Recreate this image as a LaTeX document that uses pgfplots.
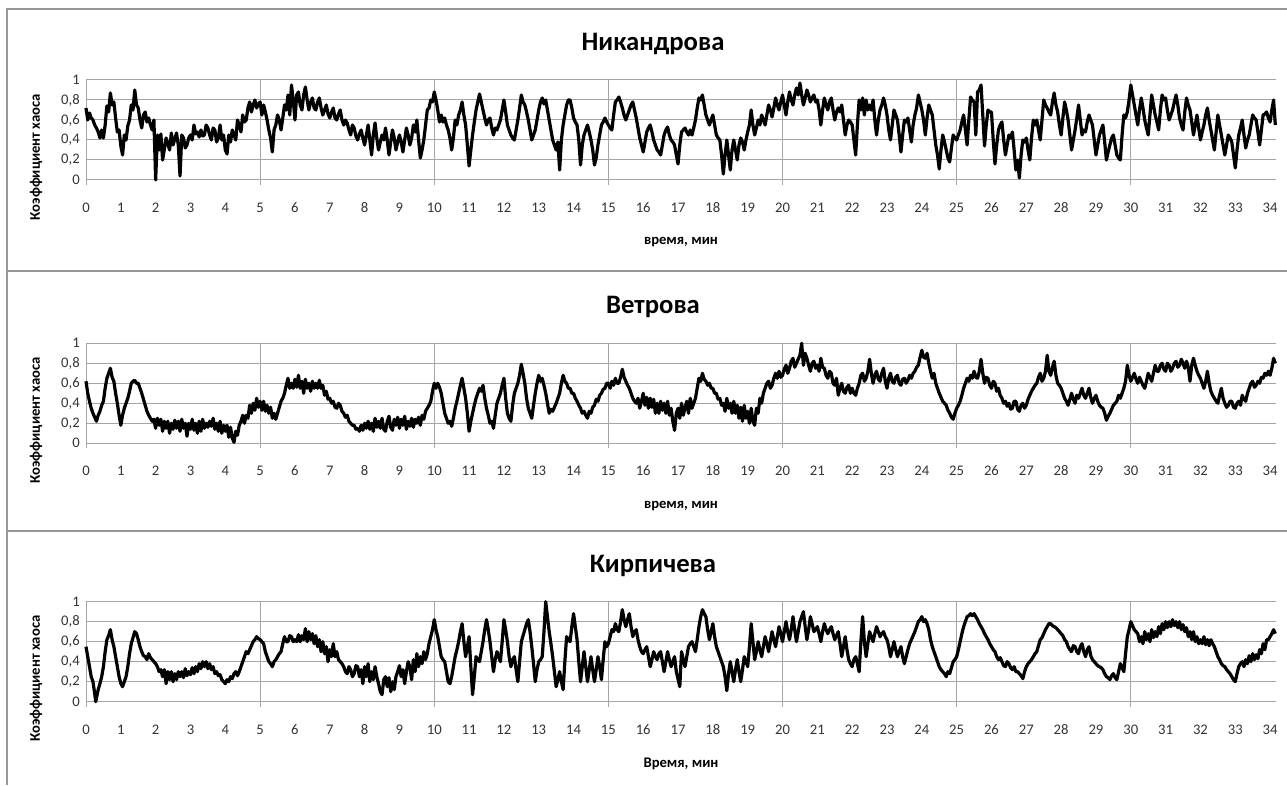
\documentclass[border=0pt]{standalone}
\usepackage{pgfplots}
\pgfplotsset{compat=1.18}
\usepackage{fontspec}
\setmainfont{Carlito}

\definecolor{gridgray}{RGB}{165,165,165}
\definecolor{framegray}{RGB}{150,150,150}

\pgfplotsset{
  chaos/.style={
    scale only axis, width=892.5pt, height=75pt,
    anchor=south west,
    xmin=0, xmax=34.17, ymin=0, ymax=1,
    axis line style={draw=none},
    xtick={0,...,34}, major tick length=0pt,
    ytick={0,0.2,0.4,0.6,0.8,1},
    yticklabels={0,{0,2},{0,4},{0,6},{0,8},1},
    ymajorgrids, grid style={gridgray, line width=0.75pt},
    extra x ticks={0,5,10,15,20,25,30}, extra x tick labels={},
    extra x tick style={xmajorgrids, major tick length=3.75pt,
      tick align=outside, tick pos=bottom,
      tick style={gridgray, line width=0.75pt}},
    /pgf/number format/assume math mode=true,
    xticklabel style={font=\fontsize{11}{13}\selectfont, anchor=base,
      inner sep=0pt, yshift=-24.5pt, text=black!80},
    yticklabel style={font=\fontsize{11}{13}\selectfont, anchor=east,
      inner sep=0pt, xshift=-4.5pt, text=black!80},
    clip=false,
  },
  series/.style={black, line width=2.4pt, line join=round, mark=none},
}

\begin{document}
\begin{tikzpicture}
\useasboundingbox (0,0) rectangle (965.25pt,588.75pt);

% chart frames
\draw[framegray, line width=1.1pt] (5.25pt,0pt) -- (5.25pt,582pt) -- (965.25pt,582pt);
\draw[framegray, line width=1.1pt] (5.25pt,385.5pt) -- (965.25pt,385.5pt);
\draw[framegray, line width=1.1pt] (5.25pt,190.5pt) -- (965.25pt,190.5pt);

% ---------------- Никандрова ----------------
\begin{axis}[chaos, at={(64.5pt,453.75pt)}]
\addplot[series] coordinates {
(0,0.72)(0.05,0.6)(0.1,0.67)(0.15,0.62)(0.2,0.6)(0.25,0.55)(0.3,0.52)(0.35,0.48)(0.4,0.42)(0.45,0.5)(0.5,0.42)(0.55,0.55)(0.6,0.74)(0.65,0.68)(0.7,0.87)(0.75,0.75)(0.8,0.78)(0.85,0.62)(0.9,0.48)(0.95,0.5)
(1.0,0.34)(1.05,0.25)(1.1,0.45)(1.15,0.4)(1.2,0.54)(1.25,0.6)(1.3,0.75)(1.35,0.7)(1.4,0.9)(1.45,0.75)(1.5,0.72)(1.55,0.6)(1.6,0.52)(1.65,0.65)(1.7,0.68)(1.75,0.58)(1.8,0.62)(1.85,0.55)(1.9,0.5)(1.95,0.6)
(2.0,0.0)(2.05,0.45)(2.1,0.3)(2.15,0.46)(2.2,0.2)(2.3,0.42)(2.4,0.3)(2.45,0.47)(2.5,0.35)(2.6,0.47)(2.65,0.35)(2.7,0.04)(2.75,0.45)(2.8,0.42)(2.85,0.32)(2.9,0.35)(2.95,0.42)
(3.0,0.45)(3.05,0.4)(3.1,0.55)(3.15,0.46)(3.2,0.48)(3.25,0.43)(3.3,0.5)(3.35,0.44)(3.4,0.45)(3.45,0.55)(3.5,0.52)(3.55,0.45)(3.6,0.4)(3.65,0.52)(3.7,0.5)(3.75,0.38)(3.8,0.42)(3.85,0.55)(3.9,0.4)(3.95,0.45)
(4.0,0.3)(4.05,0.26)(4.1,0.45)(4.15,0.38)(4.2,0.5)(4.25,0.45)(4.3,0.4)(4.35,0.6)(4.4,0.55)(4.45,0.48)(4.5,0.65)(4.55,0.58)(4.6,0.6)(4.65,0.72)(4.7,0.78)(4.75,0.68)(4.8,0.75)(4.85,0.8)(4.9,0.72)(4.95,0.76)
(5.0,0.78)(5.05,0.65)(5.1,0.75)(5.15,0.68)(5.2,0.6)(5.25,0.5)(5.3,0.42)(5.35,0.28)(5.4,0.5)(5.45,0.55)(5.5,0.65)(5.55,0.6)(5.6,0.5)(5.65,0.62)(5.7,0.75)(5.75,0.7)(5.8,0.85)(5.85,0.65)(5.9,0.95)(5.95,0.8)
(6.0,0.6)(6.05,0.85)(6.1,0.88)(6.15,0.75)(6.2,0.7)(6.25,0.85)(6.3,0.93)(6.35,0.8)(6.4,0.7)(6.45,0.78)(6.5,0.82)(6.55,0.72)(6.6,0.7)(6.65,0.78)(6.7,0.82)(6.75,0.72)(6.8,0.65)(6.85,0.7)(6.9,0.75)(6.95,0.66)
(7.0,0.62)(7.05,0.68)(7.1,0.72)(7.15,0.62)(7.2,0.6)(7.25,0.66)(7.3,0.7)(7.35,0.6)(7.4,0.55)(7.45,0.6)(7.5,0.57)(7.55,0.5)(7.6,0.45)(7.65,0.55)(7.7,0.52)(7.75,0.44)(7.8,0.4)(7.85,0.46)(7.9,0.5)(7.95,0.42)
(8.0,0.35)(8.05,0.45)(8.1,0.55)(8.15,0.4)(8.2,0.25)(8.25,0.45)(8.3,0.57)(8.35,0.42)(8.4,0.3)(8.45,0.38)(8.5,0.45)(8.55,0.4)(8.6,0.52)(8.65,0.4)(8.7,0.25)(8.75,0.38)(8.8,0.5)(8.85,0.42)(8.9,0.3)(8.95,0.38)
(9.0,0.45)(9.05,0.38)(9.1,0.28)(9.15,0.4)(9.2,0.52)(9.25,0.45)(9.3,0.35)(9.35,0.42)(9.4,0.55)(9.45,0.48)(9.5,0.6)(9.55,0.4)(9.6,0.22)(9.65,0.3)(9.7,0.4)(9.75,0.55)(9.8,0.7)(9.85,0.72)(9.9,0.8)(9.95,0.78)
(10.0,0.88)(10.05,0.8)(10.1,0.7)(10.15,0.58)(10.2,0.65)(10.25,0.58)(10.3,0.62)(10.35,0.55)(10.4,0.5)(10.45,0.42)(10.5,0.3)(10.55,0.42)(10.6,0.6)(10.65,0.55)(10.7,0.65)(10.75,0.7)(10.8,0.78)(10.85,0.65)(10.9,0.55)(10.95,0.35)
(11.0,0.14)(11.05,0.3)(11.1,0.45)(11.15,0.58)(11.2,0.7)(11.25,0.78)(11.3,0.86)(11.35,0.78)(11.4,0.7)(11.45,0.62)(11.5,0.55)(11.55,0.6)(11.6,0.62)(11.65,0.52)(11.7,0.45)(11.75,0.52)(11.8,0.5)(11.85,0.55)(11.9,0.6)(11.95,0.7)
(12.0,0.8)(12.05,0.68)(12.1,0.55)(12.15,0.5)(12.2,0.45)(12.25,0.42)(12.3,0.4)(12.35,0.5)(12.4,0.6)(12.45,0.72)(12.5,0.85)(12.55,0.78)(12.6,0.75)(12.65,0.68)(12.7,0.6)(12.75,0.5)(12.8,0.4)(12.85,0.45)(12.9,0.5)(12.95,0.6)
(13.0,0.7)(13.05,0.78)(13.1,0.82)(13.15,0.76)(13.2,0.8)(13.25,0.7)(13.3,0.6)(13.35,0.5)(13.4,0.4)(13.45,0.35)(13.5,0.3)(13.55,0.38)(13.6,0.1)(13.65,0.4)(13.7,0.55)(13.75,0.65)(13.8,0.75)(13.85,0.8)(13.9,0.8)(13.95,0.72)
(14.0,0.62)(14.05,0.58)(14.1,0.55)(14.15,0.4)(14.2,0.15)(14.25,0.35)(14.3,0.45)(14.35,0.5)(14.4,0.55)(14.45,0.48)(14.5,0.4)(14.55,0.3)(14.6,0.15)(14.65,0.22)(14.7,0.35)(14.75,0.45)(14.8,0.55)(14.85,0.58)(14.9,0.62)(14.95,0.58)
(15.0,0.55)(15.05,0.52)(15.1,0.5)(15.15,0.65)(15.2,0.78)(15.25,0.8)(15.3,0.83)(15.35,0.78)(15.4,0.72)(15.45,0.65)(15.5,0.6)(15.55,0.65)(15.6,0.7)(15.65,0.75)(15.7,0.78)(15.75,0.7)(15.8,0.62)(15.85,0.52)(15.9,0.42)(15.95,0.35)
(16.0,0.28)(16.05,0.38)(16.1,0.48)(16.15,0.52)(16.2,0.55)(16.25,0.48)(16.3,0.4)(16.35,0.35)(16.4,0.3)(16.45,0.28)(16.5,0.25)(16.55,0.35)(16.6,0.45)(16.65,0.5)(16.7,0.53)(16.75,0.45)(16.8,0.4)(16.85,0.38)(16.9,0.35)(16.95,0.25)
(17.0,0.16)(17.05,0.35)(17.1,0.48)(17.15,0.5)(17.2,0.52)(17.25,0.48)(17.3,0.45)(17.35,0.5)(17.4,0.45)(17.45,0.52)(17.5,0.6)(17.55,0.72)(17.6,0.82)(17.65,0.8)(17.7,0.85)(17.75,0.75)(17.8,0.65)(17.85,0.6)(17.9,0.55)(17.95,0.6)
(18.0,0.65)(18.05,0.55)(18.1,0.45)(18.15,0.42)(18.2,0.4)(18.25,0.25)(18.3,0.06)(18.35,0.25)(18.4,0.4)(18.45,0.25)(18.5,0.1)(18.55,0.3)(18.6,0.4)(18.65,0.3)(18.7,0.2)(18.75,0.35)(18.8,0.42)(18.85,0.38)(18.9,0.3)(18.95,0.4)
(19.0,0.48)(19.05,0.55)(19.1,0.7)(19.15,0.55)(19.2,0.45)(19.25,0.52)(19.3,0.6)(19.35,0.55)(19.4,0.65)(19.45,0.6)(19.5,0.55)(19.55,0.65)(19.6,0.75)(19.65,0.7)(19.7,0.63)(19.75,0.72)(19.8,0.82)(19.85,0.75)(19.9,0.7)(19.95,0.78)
(20.0,0.85)(20.05,0.75)(20.1,0.65)(20.15,0.78)(20.2,0.88)(20.25,0.8)(20.3,0.75)(20.35,0.85)(20.4,0.92)(20.45,0.85)(20.5,0.97)(20.55,0.85)(20.6,0.75)(20.65,0.82)(20.7,0.9)(20.75,0.85)(20.8,0.78)(20.85,0.82)(20.9,0.85)(20.95,0.78)
(21.0,0.8)(21.05,0.7)(21.1,0.55)(21.15,0.7)(21.2,0.82)(21.25,0.75)(21.3,0.7)(21.35,0.78)(21.4,0.82)(21.45,0.7)(21.5,0.6)(21.55,0.68)(21.6,0.72)(21.65,0.68)(21.7,0.75)(21.75,0.6)(21.8,0.45)(21.85,0.55)(21.9,0.6)(21.95,0.58)
(22.0,0.55)(22.05,0.4)(22.1,0.25)(22.15,0.55)(22.2,0.8)(22.25,0.7)(22.3,0.82)(22.35,0.65)(22.4,0.8)(22.45,0.7)(22.5,0.75)(22.55,0.7)(22.6,0.8)(22.65,0.6)(22.7,0.45)(22.75,0.6)(22.8,0.7)(22.85,0.75)(22.9,0.82)(22.95,0.75)
(23.0,0.65)(23.05,0.5)(23.1,0.4)(23.15,0.55)(23.2,0.7)(23.25,0.65)(23.3,0.6)(23.35,0.45)(23.4,0.28)(23.45,0.45)(23.5,0.6)(23.55,0.58)(23.6,0.62)(23.65,0.5)(23.7,0.38)(23.75,0.55)(23.8,0.65)(23.85,0.72)(23.9,0.85)(23.95,0.78)
(24.0,0.7)(24.05,0.6)(24.1,0.45)(24.15,0.62)(24.2,0.75)(24.25,0.7)(24.3,0.65)(24.35,0.5)(24.4,0.35)(24.45,0.25)(24.5,0.11)(24.55,0.3)(24.6,0.45)(24.65,0.38)(24.7,0.3)(24.75,0.22)(24.8,0.18)(24.85,0.32)(24.9,0.45)(24.95,0.42)
(25.0,0.4)(25.05,0.45)(25.1,0.5)(25.15,0.58)(25.2,0.65)(25.25,0.5)(25.3,0.35)(25.35,0.6)(25.4,0.83)(25.45,0.8)(25.5,0.78)(25.55,0.45)(25.6,0.88)(25.65,0.9)(25.7,0.95)(25.75,0.65)(25.8,0.34)(25.85,0.55)(25.9,0.7)(25.95,0.68)
(26.0,0.68)(26.05,0.4)(26.1,0.16)(26.15,0.35)(26.2,0.5)(26.25,0.55)(26.3,0.58)(26.35,0.4)(26.4,0.25)(26.45,0.35)(26.5,0.45)(26.55,0.42)(26.6,0.48)(26.65,0.3)(26.7,0.1)(26.75,0.2)(26.8,0.02)(26.85,0.25)(26.9,0.4)(26.95,0.38)
(27.0,0.42)(27.05,0.3)(27.1,0.2)(27.15,0.42)(27.2,0.6)(27.25,0.55)(27.3,0.6)(27.35,0.5)(27.4,0.4)(27.45,0.6)(27.5,0.8)(27.55,0.75)(27.6,0.72)(27.65,0.68)(27.7,0.65)(27.75,0.78)(27.8,0.87)(27.85,0.75)(27.9,0.68)(27.95,0.55)
(28.0,0.45)(28.05,0.62)(28.1,0.78)(28.15,0.7)(28.2,0.6)(28.25,0.45)(28.3,0.3)(28.35,0.4)(28.4,0.5)(28.45,0.62)(28.5,0.75)(28.55,0.6)(28.6,0.45)(28.65,0.5)(28.7,0.48)(28.75,0.58)(28.8,0.65)(28.85,0.6)(28.9,0.55)(28.95,0.4)
(29.0,0.25)(29.05,0.35)(29.1,0.45)(29.15,0.5)(29.2,0.55)(29.25,0.38)(29.3,0.2)(29.35,0.28)(29.4,0.35)(29.45,0.42)(29.5,0.45)(29.55,0.35)(29.6,0.25)(29.65,0.22)(29.7,0.2)(29.75,0.45)(29.8,0.65)(29.85,0.62)(29.9,0.68)(29.95,0.8)
(30.0,0.95)(30.05,0.85)(30.1,0.75)(30.15,0.65)(30.2,0.55)(30.25,0.7)(30.3,0.82)(30.35,0.72)(30.4,0.6)(30.45,0.52)(30.5,0.45)(30.55,0.65)(30.6,0.85)(30.65,0.75)(30.7,0.65)(30.75,0.58)(30.8,0.5)(30.85,0.7)(30.9,0.85)(30.95,0.8)
(31.0,0.82)(31.05,0.7)(31.1,0.6)(31.15,0.65)(31.2,0.7)(31.25,0.78)(31.3,0.85)(31.35,0.75)(31.4,0.62)(31.45,0.55)(31.5,0.5)(31.55,0.68)(31.6,0.82)(31.65,0.75)(31.7,0.7)(31.75,0.58)(31.8,0.45)(31.85,0.55)(31.9,0.65)(31.95,0.52)
(32.0,0.4)(32.05,0.48)(32.1,0.55)(32.15,0.65)(32.2,0.72)(32.25,0.6)(32.3,0.5)(32.35,0.4)(32.4,0.3)(32.45,0.48)(32.5,0.65)(32.55,0.55)(32.6,0.45)(32.65,0.35)(32.7,0.25)(32.75,0.35)(32.8,0.45)(32.85,0.42)(32.9,0.38)(32.95,0.25)
(33.0,0.12)(33.05,0.3)(33.1,0.45)(33.15,0.52)(33.2,0.6)(33.25,0.45)(33.3,0.32)(33.35,0.4)(33.4,0.45)(33.45,0.55)(33.5,0.65)(33.55,0.62)(33.6,0.6)(33.65,0.48)(33.7,0.35)(33.75,0.5)(33.8,0.65)(33.85,0.66)(33.9,0.68)(33.95,0.62)
(34.0,0.58)(34.05,0.7)(34.1,0.8)(34.15,0.55)
};
\end{axis}

% ---------------- Ветрова ----------------
\begin{axis}[chaos, at={(64.5pt,256.3pt)}]
\addplot[series] coordinates {
(0,0.62)(0.05,0.5)(0.1,0.42)(0.15,0.35)(0.2,0.3)(0.25,0.26)(0.3,0.22)(0.35,0.28)(0.4,0.32)(0.45,0.38)(0.5,0.42)(0.55,0.55)(0.6,0.65)(0.65,0.7)(0.7,0.75)(0.75,0.66)(0.8,0.62)(0.85,0.5)(0.9,0.4)(0.95,0.28)
(1.0,0.18)(1.05,0.28)(1.1,0.35)(1.15,0.4)(1.2,0.45)(1.25,0.52)(1.3,0.6)(1.35,0.62)(1.4,0.63)(1.45,0.6)(1.5,0.6)(1.55,0.55)(1.6,0.5)(1.65,0.44)(1.7,0.38)(1.75,0.32)(1.8,0.28)(1.85,0.25)(1.9,0.22)(1.95,0.24)
(2.0,0.15)(2.05,0.25)(2.1,0.18)(2.15,0.24)(2.2,0.12)(2.25,0.22)(2.3,0.15)(2.35,0.22)(2.4,0.1)(2.45,0.2)(2.5,0.14)(2.55,0.23)(2.6,0.15)(2.65,0.22)(2.7,0.12)(2.75,0.24)(2.8,0.15)(2.85,0.2)(2.9,0.07)(2.95,0.2)
(3.0,0.14)(3.05,0.24)(3.1,0.13)(3.15,0.2)(3.2,0.1)(3.25,0.22)(3.3,0.12)(3.35,0.24)(3.4,0.15)(3.45,0.2)(3.5,0.16)(3.55,0.22)(3.6,0.17)(3.65,0.25)(3.7,0.14)(3.75,0.2)(3.8,0.12)(3.85,0.22)(3.9,0.1)(3.95,0.18)
(4.0,0.12)(4.05,0.18)(4.1,0.06)(4.15,0.16)(4.2,0.05)(4.25,0.01)(4.3,0.12)(4.35,0.08)(4.4,0.18)(4.45,0.22)
(4.5,0.28)(4.55,0.2)(4.6,0.28)(4.65,0.25)(4.7,0.38)(4.75,0.3)(4.8,0.4)(4.85,0.33)(4.9,0.45)(4.95,0.36)
(5.0,0.42)(5.05,0.33)(5.1,0.42)(5.15,0.32)(5.2,0.38)(5.25,0.3)(5.3,0.36)(5.35,0.25)(5.4,0.3)(5.45,0.24)(5.5,0.3)(5.55,0.36)(5.6,0.42)(5.65,0.45)(5.7,0.5)(5.75,0.58)
(5.8,0.65)(5.85,0.55)(5.9,0.6)(5.95,0.55)(6.0,0.64)(6.05,0.56)(6.1,0.68)(6.15,0.55)(6.2,0.62)(6.25,0.5)(6.3,0.64)(6.35,0.55)(6.4,0.6)(6.45,0.52)(6.5,0.62)(6.55,0.55)(6.6,0.6)(6.65,0.55)(6.7,0.63)(6.75,0.55)(6.8,0.58)(6.85,0.48)(6.9,0.52)(6.95,0.44)
(7.0,0.45)(7.05,0.4)(7.1,0.42)(7.15,0.36)(7.2,0.35)(7.25,0.4)(7.3,0.38)(7.35,0.32)(7.4,0.3)(7.45,0.26)(7.5,0.28)(7.55,0.22)(7.6,0.2)(7.65,0.18)(7.7,0.18)(7.75,0.14)
(7.8,0.15)(7.85,0.12)(7.9,0.18)(7.95,0.13)(8.0,0.2)(8.05,0.15)(8.1,0.22)(8.15,0.14)(8.2,0.2)(8.25,0.12)(8.3,0.25)(8.35,0.16)(8.4,0.22)(8.45,0.15)(8.5,0.25)(8.55,0.14)(8.6,0.12)(8.65,0.22)(8.7,0.27)(8.75,0.16)
(8.8,0.13)(8.85,0.24)(8.9,0.18)(8.95,0.26)(9.0,0.15)(9.05,0.24)(9.1,0.18)(9.15,0.27)(9.2,0.14)(9.25,0.22)(9.3,0.17)(9.35,0.25)(9.4,0.16)(9.45,0.24)(9.5,0.2)(9.55,0.26)(9.6,0.18)(9.65,0.28)(9.7,0.24)(9.75,0.32)
(9.8,0.35)(9.85,0.38)(9.9,0.42)(9.95,0.52)
(10.0,0.6)(10.05,0.55)(10.1,0.6)(10.15,0.56)(10.2,0.5)(10.25,0.4)(10.3,0.3)(10.35,0.25)(10.4,0.2)(10.45,0.22)(10.5,0.17)(10.55,0.25)(10.6,0.35)(10.65,0.42)(10.7,0.5)(10.75,0.58)(10.8,0.65)(10.85,0.55)(10.9,0.45)(10.95,0.3)
(11.0,0.12)(11.05,0.22)(11.1,0.3)(11.15,0.38)(11.2,0.45)(11.25,0.5)(11.3,0.55)(11.35,0.52)(11.4,0.58)(11.45,0.45)(11.5,0.35)(11.55,0.28)(11.6,0.2)(11.65,0.22)(11.7,0.15)(11.75,0.28)(11.8,0.4)(11.85,0.45)(11.9,0.5)(11.95,0.58)
(12.0,0.65)(12.05,0.45)(12.1,0.3)(12.15,0.25)(12.2,0.22)(12.25,0.38)(12.3,0.5)(12.35,0.55)(12.4,0.6)(12.45,0.68)(12.5,0.79)(12.55,0.7)(12.6,0.6)(12.65,0.45)(12.7,0.35)(12.75,0.3)(12.8,0.25)(12.85,0.38)(12.9,0.5)(12.95,0.6)
(13.0,0.68)(13.05,0.62)(13.1,0.65)(13.15,0.58)(13.2,0.5)(13.25,0.4)(13.3,0.3)(13.35,0.34)(13.4,0.32)(13.45,0.36)(13.5,0.4)(13.55,0.45)(13.6,0.5)(13.65,0.6)(13.7,0.68)(13.75,0.62)(13.8,0.6)(13.85,0.55)(13.9,0.55)(13.95,0.5)
(14.0,0.5)(14.05,0.45)(14.1,0.42)(14.15,0.38)(14.2,0.35)(14.25,0.3)(14.3,0.32)(14.35,0.28)(14.4,0.25)(14.45,0.32)(14.5,0.3)(14.55,0.36)(14.6,0.38)(14.65,0.44)(14.7,0.42)(14.75,0.48)(14.8,0.5)(14.85,0.54)(14.9,0.55)(14.95,0.6)
(15.0,0.6)(15.05,0.55)(15.1,0.62)(15.15,0.58)(15.2,0.65)(15.25,0.6)(15.3,0.6)(15.35,0.66)(15.4,0.74)(15.45,0.66)(15.5,0.62)(15.55,0.58)(15.6,0.55)(15.65,0.5)(15.7,0.45)(15.75,0.42)(15.8,0.4)(15.85,0.45)(15.9,0.35)(15.95,0.42)
(16.0,0.5)(16.05,0.38)(16.1,0.46)(16.15,0.35)(16.2,0.45)(16.25,0.36)(16.3,0.44)(16.35,0.3)(16.4,0.4)(16.45,0.3)(16.5,0.42)(16.55,0.33)(16.6,0.4)(16.65,0.3)(16.7,0.42)(16.75,0.28)(16.8,0.35)(16.85,0.22)(16.9,0.13)(16.95,0.3)
(17.0,0.35)(17.05,0.25)(17.1,0.4)(17.15,0.28)(17.2,0.35)(17.25,0.42)(17.3,0.3)(17.35,0.45)(17.4,0.35)(17.45,0.4)(17.5,0.45)(17.55,0.55)(17.6,0.65)(17.65,0.62)(17.7,0.7)(17.75,0.64)(17.8,0.62)(17.85,0.58)(17.9,0.6)(17.95,0.55)
(18.0,0.55)(18.05,0.5)(18.1,0.5)(18.15,0.44)(18.2,0.45)(18.25,0.38)(18.3,0.4)(18.35,0.32)(18.4,0.45)(18.45,0.35)(18.5,0.4)(18.55,0.3)(18.6,0.42)(18.65,0.3)(18.7,0.38)(18.75,0.25)(18.8,0.36)(18.85,0.22)(18.9,0.38)(18.95,0.25)
(19.0,0.32)(19.05,0.2)(19.1,0.35)(19.15,0.22)(19.2,0.18)(19.25,0.35)(19.3,0.3)(19.35,0.45)(19.4,0.4)(19.45,0.5)(19.5,0.55)(19.55,0.6)(19.6,0.62)(19.65,0.55)(19.7,0.58)(19.75,0.65)(19.8,0.7)(19.85,0.65)(19.9,0.72)(19.95,0.66)
(20.0,0.68)(20.05,0.74)(20.1,0.78)(20.15,0.7)(20.2,0.75)(20.25,0.82)(20.3,0.85)(20.35,0.76)(20.4,0.8)(20.45,0.84)(20.5,0.88)(20.55,1.0)(20.6,0.78)(20.65,0.9)(20.7,0.85)(20.75,0.78)(20.8,0.72)(20.85,0.8)(20.9,0.82)(20.95,0.75)
(21.0,0.78)(21.05,0.72)(21.1,0.85)(21.15,0.76)(21.2,0.75)(21.25,0.68)(21.3,0.65)(21.35,0.72)(21.4,0.7)(21.45,0.6)(21.5,0.58)(21.55,0.65)(21.6,0.48)(21.65,0.55)(21.7,0.6)(21.75,0.52)(21.8,0.5)(21.85,0.56)(21.9,0.58)(21.95,0.5)
(22.0,0.55)(22.05,0.5)(22.1,0.48)(22.15,0.55)(22.2,0.6)(22.25,0.68)(22.3,0.7)(22.35,0.62)(22.4,0.65)(22.45,0.72)(22.5,0.84)(22.55,0.7)(22.6,0.6)(22.65,0.68)(22.7,0.72)(22.75,0.64)(22.8,0.62)(22.85,0.7)(22.9,0.75)(22.95,0.62)
(23.0,0.55)(23.05,0.65)(23.1,0.7)(23.15,0.62)(23.2,0.6)(23.25,0.66)(23.3,0.68)(23.35,0.6)(23.4,0.58)(23.45,0.64)(23.5,0.65)(23.55,0.6)(23.6,0.63)(23.65,0.68)(23.7,0.65)(23.75,0.7)(23.8,0.72)(23.85,0.76)(23.9,0.78)(23.95,0.86)
(24.0,0.93)(24.05,0.86)(24.1,0.85)(24.15,0.9)(24.2,0.8)(24.25,0.72)(24.3,0.65)(24.35,0.7)(24.4,0.6)(24.45,0.55)(24.5,0.5)(24.55,0.46)(24.6,0.42)(24.65,0.4)(24.7,0.38)(24.75,0.33)(24.8,0.3)(24.85,0.26)(24.9,0.24)(24.95,0.3)
(25.0,0.35)(25.05,0.38)(25.1,0.42)(25.15,0.48)(25.2,0.55)(25.25,0.6)(25.3,0.65)(25.35,0.62)(25.4,0.68)(25.45,0.65)(25.5,0.72)(25.55,0.66)(25.6,0.65)(25.65,0.72)(25.7,0.84)(25.75,0.7)(25.8,0.6)(25.85,0.66)(25.9,0.65)(25.95,0.58)
(26.0,0.55)(26.05,0.62)(26.1,0.6)(26.15,0.52)(26.2,0.55)(26.25,0.48)(26.3,0.45)(26.35,0.4)(26.4,0.42)(26.45,0.37)(26.5,0.4)(26.55,0.34)(26.6,0.35)(26.65,0.42)(26.7,0.42)(26.75,0.34)(26.8,0.32)(26.85,0.38)(26.9,0.4)(26.95,0.35)
(27.0,0.38)(27.05,0.44)(27.1,0.48)(27.15,0.52)(27.2,0.55)(27.25,0.58)(27.3,0.6)(27.35,0.66)(27.4,0.7)(27.45,0.62)(27.5,0.65)(27.55,0.72)(27.6,0.88)(27.65,0.72)(27.7,0.68)(27.75,0.76)(27.8,0.82)(27.85,0.68)(27.9,0.6)(27.95,0.58)
(28.0,0.55)(28.05,0.5)(28.1,0.45)(28.15,0.42)(28.2,0.38)(28.25,0.44)(28.3,0.5)(28.35,0.44)(28.4,0.4)(28.45,0.48)(28.5,0.45)(28.55,0.5)(28.6,0.55)(28.65,0.48)(28.7,0.45)(28.75,0.5)(28.8,0.55)(28.85,0.46)(28.9,0.4)(28.95,0.45)
(29.0,0.48)(29.05,0.42)(29.1,0.38)(29.15,0.36)(29.2,0.35)(29.25,0.3)(29.3,0.23)(29.35,0.27)(29.4,0.3)(29.45,0.34)(29.5,0.38)(29.55,0.4)(29.6,0.42)(29.65,0.48)(29.7,0.45)(29.75,0.5)(29.8,0.55)(29.85,0.62)(29.9,0.78)(29.95,0.68)
(30.0,0.62)(30.05,0.66)(30.1,0.7)(30.15,0.64)(30.2,0.6)(30.25,0.66)(30.3,0.62)(30.35,0.58)(30.4,0.55)(30.45,0.62)(30.5,0.7)(30.55,0.66)(30.6,0.62)(30.65,0.7)(30.7,0.78)(30.75,0.72)(30.8,0.72)(30.85,0.78)(30.9,0.8)(30.95,0.74)
(31.0,0.72)(31.05,0.8)(31.1,0.78)(31.15,0.72)(31.2,0.75)(31.25,0.8)(31.3,0.82)(31.35,0.76)(31.4,0.78)(31.45,0.84)(31.5,0.8)(31.55,0.75)(31.6,0.82)(31.65,0.76)(31.7,0.62)(31.75,0.78)(31.8,0.85)(31.85,0.78)(31.9,0.72)(31.95,0.68)
(32.0,0.65)(32.05,0.6)(32.1,0.55)(32.15,0.62)(32.2,0.72)(32.25,0.6)(32.3,0.52)(32.35,0.48)(32.4,0.45)(32.45,0.42)(32.5,0.4)(32.55,0.48)(32.6,0.55)(32.65,0.45)(32.7,0.4)(32.75,0.36)(32.8,0.38)(32.85,0.42)(32.9,0.42)(32.95,0.36)
(33.0,0.35)(33.05,0.4)(33.1,0.42)(33.15,0.38)(33.2,0.48)(33.25,0.44)(33.3,0.42)(33.35,0.5)(33.4,0.55)(33.45,0.6)(33.5,0.62)(33.55,0.56)(33.6,0.58)(33.65,0.62)(33.7,0.6)(33.75,0.66)(33.8,0.65)(33.85,0.7)(33.9,0.68)(33.95,0.72)
(34.0,0.68)(34.05,0.75)(34.1,0.85)(34.15,0.8)
};
\end{axis}

% ---------------- Кирпичева ----------------
\begin{axis}[chaos, at={(64.5pt,62.5pt)}]
\addplot[series] coordinates {
(0,0.55)(0.05,0.45)(0.1,0.35)(0.15,0.25)(0.2,0.2)(0.25,0.08)(0.28,0.0)(0.35,0.12)(0.4,0.18)(0.45,0.25)(0.5,0.35)(0.55,0.5)(0.6,0.62)(0.65,0.66)(0.7,0.72)(0.75,0.62)(0.8,0.55)(0.85,0.45)(0.9,0.35)(0.95,0.25)
(1.0,0.18)(1.05,0.15)(1.1,0.2)(1.15,0.25)(1.2,0.35)(1.25,0.48)(1.3,0.58)(1.35,0.64)(1.4,0.7)(1.45,0.68)(1.5,0.62)(1.55,0.55)(1.6,0.5)(1.65,0.46)(1.7,0.45)(1.75,0.42)(1.8,0.48)(1.85,0.44)(1.9,0.42)(1.95,0.4)
(2.0,0.38)(2.05,0.35)(2.1,0.3)(2.15,0.32)(2.2,0.25)(2.25,0.32)(2.3,0.18)(2.35,0.3)(2.4,0.22)(2.45,0.3)(2.5,0.2)(2.55,0.28)(2.6,0.22)(2.65,0.3)(2.7,0.25)(2.75,0.3)(2.8,0.24)(2.85,0.33)(2.9,0.26)(2.95,0.3)
(3.0,0.27)(3.05,0.34)(3.1,0.28)(3.15,0.35)(3.2,0.3)(3.25,0.38)(3.3,0.33)(3.35,0.4)(3.4,0.35)(3.45,0.4)(3.5,0.33)(3.55,0.38)(3.6,0.32)(3.65,0.35)(3.7,0.28)(3.75,0.3)(3.8,0.26)(3.85,0.27)(3.9,0.22)(3.95,0.2)
(4.0,0.18)(4.05,0.22)(4.1,0.2)(4.15,0.25)(4.2,0.23)(4.25,0.28)(4.3,0.3)(4.35,0.26)(4.4,0.3)(4.45,0.35)(4.5,0.4)(4.55,0.45)(4.6,0.5)(4.65,0.48)(4.7,0.52)(4.75,0.56)(4.8,0.6)(4.85,0.62)(4.9,0.65)(4.95,0.63)
(5.0,0.62)(5.05,0.6)(5.1,0.58)(5.15,0.5)(5.2,0.45)(5.25,0.4)(5.3,0.38)(5.35,0.35)(5.4,0.4)(5.45,0.42)(5.5,0.45)(5.55,0.48)(5.6,0.5)(5.65,0.58)(5.7,0.65)(5.75,0.6)(5.8,0.6)(5.85,0.66)(5.9,0.65)(5.95,0.6)
(6.0,0.62)(6.05,0.6)(6.1,0.67)(6.15,0.6)(6.2,0.66)(6.25,0.62)(6.3,0.73)(6.35,0.6)(6.4,0.7)(6.45,0.62)(6.5,0.68)(6.55,0.58)(6.6,0.66)(6.65,0.55)(6.7,0.62)(6.75,0.5)(6.8,0.6)(6.85,0.48)(6.9,0.55)(6.95,0.4)
(7.0,0.52)(7.05,0.45)(7.1,0.58)(7.15,0.45)(7.2,0.5)(7.25,0.42)(7.3,0.4)(7.35,0.38)(7.4,0.35)(7.45,0.3)(7.5,0.28)(7.55,0.35)(7.6,0.32)(7.65,0.25)(7.7,0.28)(7.75,0.36)
(7.8,0.35)(7.85,0.25)(7.9,0.32)(7.95,0.18)(8.0,0.35)(8.05,0.25)(8.1,0.38)(8.15,0.2)(8.2,0.3)(8.25,0.22)(8.3,0.35)(8.35,0.25)(8.4,0.18)(8.45,0.1)(8.5,0.07)(8.55,0.22)(8.6,0.25)(8.65,0.15)(8.7,0.24)(8.75,0.1)
(8.8,0.2)(8.85,0.12)(8.9,0.25)(8.95,0.3)(9.0,0.36)(9.05,0.25)(9.1,0.32)(9.15,0.18)(9.2,0.3)(9.25,0.4)(9.3,0.35)(9.35,0.22)(9.4,0.42)(9.45,0.3)(9.5,0.48)(9.55,0.35)(9.6,0.45)(9.65,0.38)(9.7,0.5)(9.75,0.42)
(9.8,0.48)(9.85,0.58)(9.9,0.65)(9.95,0.72)
(10.0,0.82)(10.05,0.72)(10.1,0.65)(10.15,0.55)(10.2,0.45)(10.25,0.42)(10.3,0.4)(10.35,0.3)(10.4,0.2)(10.45,0.18)(10.5,0.25)(10.55,0.35)(10.6,0.45)(10.65,0.52)(10.7,0.6)(10.75,0.7)(10.8,0.78)(10.85,0.6)(10.9,0.45)(10.95,0.55)
(11.0,0.65)(11.05,0.35)(11.1,0.07)(11.15,0.25)(11.2,0.45)(11.25,0.42)(11.3,0.4)(11.35,0.5)(11.4,0.6)(11.45,0.72)(11.5,0.82)(11.55,0.72)(11.6,0.6)(11.65,0.45)(11.7,0.3)(11.75,0.42)(11.8,0.5)(11.85,0.45)(11.9,0.4)(11.95,0.6)
(12.0,0.82)(12.05,0.72)(12.1,0.6)(12.15,0.45)(12.2,0.35)(12.25,0.42)(12.3,0.45)(12.35,0.32)(12.4,0.2)(12.45,0.4)(12.5,0.6)(12.55,0.66)(12.6,0.72)(12.65,0.78)(12.7,0.82)(12.75,0.7)(12.8,0.55)(12.85,0.38)(12.9,0.2)(12.95,0.32)
(13.0,0.4)(13.05,0.42)(13.1,0.45)(13.15,0.7)(13.2,1.0)(13.25,0.85)(13.3,0.7)(13.35,0.58)(13.4,0.45)(13.45,0.3)(13.5,0.15)(13.55,0.22)(13.6,0.3)(13.65,0.2)(13.7,0.12)(13.75,0.4)(13.8,0.65)(13.85,0.62)(13.9,0.6)(13.95,0.75)
(14.0,0.88)(14.05,0.75)(14.1,0.62)(14.15,0.4)(14.2,0.2)(14.25,0.35)(14.3,0.5)(14.35,0.35)(14.4,0.2)(14.45,0.32)(14.5,0.45)(14.55,0.32)(14.6,0.2)(14.65,0.32)(14.7,0.45)(14.75,0.35)(14.8,0.22)(14.85,0.42)(14.9,0.6)(14.95,0.55)
(15.0,0.58)(15.05,0.65)(15.1,0.72)(15.15,0.7)(15.2,0.78)(15.25,0.72)(15.3,0.7)(15.35,0.8)(15.4,0.92)(15.45,0.82)(15.5,0.75)(15.55,0.82)(15.6,0.88)(15.65,0.75)(15.7,0.65)(15.75,0.7)(15.8,0.72)(15.85,0.62)(15.9,0.55)(15.95,0.5)
(16.0,0.48)(16.05,0.52)(16.1,0.55)(16.15,0.45)(16.2,0.35)(16.25,0.42)(16.3,0.5)(16.35,0.45)(16.4,0.42)(16.45,0.48)(16.5,0.5)(16.55,0.4)(16.6,0.3)(16.65,0.4)(16.7,0.5)(16.75,0.42)(16.8,0.35)(16.85,0.4)(16.9,0.45)(16.95,0.3)
(17.05,0.15)(17.1,0.5)(17.15,0.42)(17.2,0.35)(17.25,0.45)(17.3,0.55)(17.35,0.58)(17.4,0.6)(17.45,0.55)(17.5,0.5)(17.55,0.62)(17.6,0.75)(17.65,0.85)(17.7,0.92)(17.75,0.88)(17.8,0.85)(17.85,0.72)(17.9,0.62)(17.95,0.7)
(18.0,0.78)(18.05,0.65)(18.1,0.55)(18.15,0.5)(18.2,0.45)(18.25,0.4)(18.3,0.35)(18.35,0.25)(18.4,0.11)(18.45,0.28)(18.5,0.4)(18.55,0.3)(18.6,0.2)(18.65,0.32)(18.7,0.42)(18.75,0.3)(18.8,0.2)(18.85,0.32)(18.9,0.45)(18.95,0.4)
(19.0,0.35)(19.05,0.55)(19.1,0.78)(19.15,0.6)(19.2,0.42)(19.25,0.5)(19.3,0.6)(19.35,0.52)(19.4,0.45)(19.45,0.55)(19.5,0.65)(19.55,0.58)(19.6,0.5)(19.65,0.6)(19.7,0.7)(19.75,0.62)(19.8,0.55)(19.85,0.65)(19.9,0.75)(19.95,0.68)
(20.0,0.6)(20.05,0.7)(20.1,0.8)(20.15,0.7)(20.2,0.62)(20.25,0.72)(20.3,0.85)(20.35,0.72)(20.4,0.6)(20.45,0.7)(20.5,0.8)(20.55,0.85)(20.6,0.9)(20.65,0.75)(20.7,0.62)(20.75,0.72)(20.8,0.85)(20.85,0.78)(20.9,0.7)(20.95,0.72)
(21.0,0.75)(21.05,0.68)(21.1,0.6)(21.15,0.7)(21.2,0.78)(21.25,0.72)(21.3,0.68)(21.35,0.72)(21.4,0.75)(21.45,0.68)(21.5,0.62)(21.55,0.66)(21.6,0.7)(21.65,0.58)(21.7,0.45)(21.75,0.55)(21.8,0.65)(21.85,0.52)(21.9,0.42)(21.95,0.38)
(22.0,0.35)(22.05,0.42)(22.1,0.45)(22.15,0.38)(22.2,0.3)(22.25,0.6)(22.3,0.85)(22.35,0.6)(22.4,0.45)(22.45,0.58)(22.5,0.7)(22.55,0.65)(22.6,0.6)(22.65,0.68)(22.7,0.75)(22.75,0.7)(22.8,0.65)(22.85,0.68)(22.9,0.7)(22.95,0.65)
(23.0,0.62)(23.05,0.55)(23.1,0.45)(23.15,0.52)(23.2,0.6)(23.25,0.52)(23.3,0.45)(23.35,0.5)(23.4,0.55)(23.45,0.45)(23.5,0.38)(23.55,0.45)(23.6,0.52)(23.65,0.58)(23.7,0.62)(23.75,0.66)(23.8,0.7)(23.85,0.75)(23.9,0.8)(23.95,0.82)
(24.0,0.85)(24.05,0.8)(24.1,0.82)(24.15,0.78)(24.2,0.72)(24.25,0.62)(24.3,0.55)(24.35,0.5)(24.4,0.45)(24.45,0.4)(24.5,0.35)(24.55,0.32)(24.6,0.3)(24.65,0.28)(24.7,0.25)(24.75,0.3)(24.8,0.28)(24.85,0.34)(24.9,0.4)(24.95,0.42)
(25.0,0.45)(25.05,0.52)(25.1,0.6)(25.15,0.68)(25.2,0.75)(25.25,0.8)(25.3,0.85)(25.35,0.86)(25.4,0.88)(25.45,0.86)(25.5,0.88)(25.55,0.85)(25.6,0.82)(25.65,0.78)(25.7,0.75)(25.75,0.72)(25.8,0.68)(25.85,0.65)(25.9,0.62)(25.95,0.58)
(26.0,0.55)(26.05,0.52)(26.1,0.5)(26.15,0.45)(26.2,0.42)(26.25,0.44)(26.3,0.4)(26.35,0.36)(26.4,0.35)(26.45,0.4)(26.5,0.38)(26.55,0.34)(26.6,0.32)(26.65,0.35)(26.7,0.3)(26.75,0.3)(26.8,0.28)(26.85,0.26)(26.9,0.23)(26.95,0.3)
(27.0,0.35)(27.05,0.38)(27.1,0.4)(27.15,0.42)(27.2,0.45)(27.25,0.48)(27.3,0.5)(27.35,0.56)(27.4,0.62)(27.45,0.64)(27.5,0.68)(27.55,0.72)(27.6,0.75)(27.65,0.78)(27.7,0.78)(27.75,0.76)(27.8,0.75)(27.85,0.74)(27.9,0.72)(27.95,0.7)
(28.0,0.68)(28.05,0.66)(28.1,0.62)(28.15,0.6)(28.2,0.55)(28.25,0.52)(28.3,0.5)(28.35,0.56)(28.4,0.55)(28.45,0.5)(28.5,0.48)(28.55,0.55)(28.6,0.58)(28.65,0.5)(28.7,0.45)(28.75,0.52)(28.8,0.55)(28.85,0.46)(28.9,0.42)(28.95,0.4)
(29.0,0.38)(29.05,0.36)(29.1,0.35)(29.15,0.34)(29.2,0.32)(29.25,0.28)(29.3,0.25)(29.35,0.24)(29.4,0.22)(29.45,0.26)(29.5,0.28)(29.55,0.24)(29.6,0.22)(29.65,0.3)(29.7,0.38)(29.75,0.34)(29.8,0.3)(29.85,0.48)(29.9,0.65)(29.95,0.72)
(30.0,0.8)(30.05,0.76)(30.1,0.72)(30.15,0.7)(30.2,0.68)(30.25,0.6)(30.3,0.65)(30.35,0.58)(30.4,0.7)(30.45,0.62)(30.5,0.68)(30.55,0.6)(30.6,0.72)(30.65,0.64)(30.7,0.7)(30.75,0.65)(30.8,0.75)(30.85,0.68)(30.9,0.78)(30.95,0.72)
(31.0,0.8)(31.05,0.74)(31.1,0.8)(31.15,0.75)(31.2,0.82)(31.25,0.76)(31.3,0.8)(31.35,0.74)(31.4,0.8)(31.45,0.72)(31.5,0.77)(31.55,0.7)(31.6,0.74)(31.65,0.65)(31.7,0.7)(31.75,0.62)(31.8,0.7)(31.85,0.6)(31.9,0.65)(31.95,0.58)
(32.0,0.62)(32.05,0.58)(32.1,0.65)(32.15,0.57)(32.2,0.62)(32.25,0.56)(32.3,0.62)(32.35,0.58)(32.4,0.55)(32.45,0.5)(32.5,0.45)(32.55,0.42)(32.6,0.38)(32.65,0.36)(32.7,0.35)(32.75,0.32)(32.8,0.3)(32.85,0.28)(32.9,0.25)(32.95,0.22)
(33.0,0.2)(33.05,0.28)(33.1,0.35)(33.15,0.38)(33.2,0.4)(33.25,0.35)(33.3,0.42)(33.35,0.38)(33.4,0.46)(33.45,0.4)(33.5,0.48)(33.55,0.42)(33.6,0.47)(33.65,0.43)(33.7,0.52)(33.75,0.48)(33.8,0.58)(33.85,0.52)(33.9,0.62)(33.95,0.62)
(34.0,0.65)(34.05,0.68)(34.1,0.72)(34.15,0.68)
};
\end{axis}

% titles and axis labels
\begin{scope}[every node/.style={inner sep=0pt}]
\node[anchor=base, font=\fontsize{20}{24}\selectfont\bfseries] at (489.75pt,550.5pt) {Никандрова};
\node[anchor=base, font=\fontsize{20}{24}\selectfont\bfseries] at (489.75pt,353.25pt) {Ветрова};
\node[anchor=base, font=\fontsize{20}{24}\selectfont\bfseries] at (489.75pt,159pt) {Кирпичева};

\node[rotate=90, font=\fontsize{11}{13}\selectfont\bfseries] at (27pt,471pt) {Коэффициент хаоса};
\node[rotate=90, font=\fontsize{11}{13}\selectfont\bfseries] at (27pt,273.5pt) {Коэффициент хаоса};
\node[rotate=90, font=\fontsize{11}{13}\selectfont\bfseries] at (27pt,79.7pt) {Коэффициент хаоса};

\node[anchor=base, font=\fontsize{11}{13}\selectfont\bfseries] at (510.75pt,405pt) {время, мин};
\node[anchor=base, font=\fontsize{11}{13}\selectfont\bfseries] at (510.75pt,207pt) {время, мин};
\node[anchor=base, font=\fontsize{11}{13}\selectfont\bfseries] at (510.75pt,13.5pt) {Время, мин};
\end{scope}
\end{tikzpicture}
\end{document}
